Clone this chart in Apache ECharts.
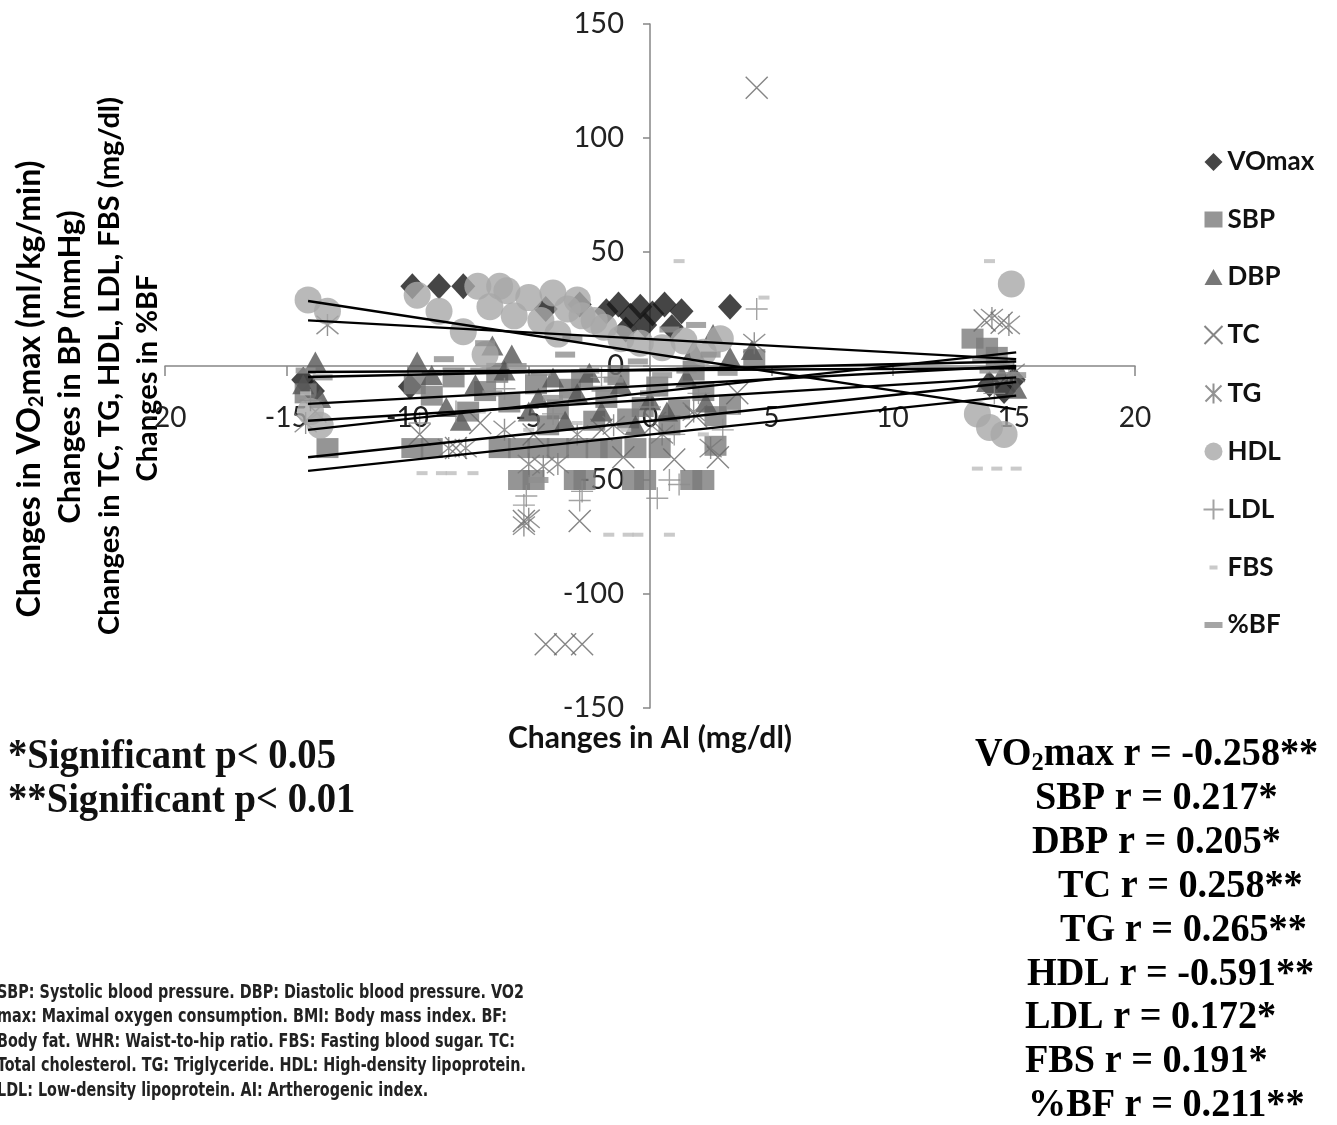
<!DOCTYPE html>
<html><head><meta charset="utf-8">
<script src="https://cdn.jsdelivr.net/npm/echarts@6/dist/echarts.min.js"></script>
<style>html,body{margin:0;padding:0;background:#fff}#c{width:1337px;height:1125px}</style>
</head><body><div id="c"></div>
<script>
// ---------- data (x = change in AI, y = change in variable) ----------
const seriesNames = ['VOmax', 'SBP', 'DBP', 'TC', 'TG', 'HDL', 'LDL', 'FBS', '%BF'];
const vo2max = [[-9.8,35],[-8.7,35],[-7.7,35],[-4.3,25],[-2.9,27],[-1.8,24],[-1.3,27],[-0.8,22],[-0.4,26],[0.1,23],[0.6,27],[1.3,24],[-1.0,16],[-0.2,18],[0.9,17],[3.3,26],[-14.3,-6],[-13.9,-11],[-9.9,-9],[14.0,-8],[14.6,-11],[15.0,-6]];
const sbp = [[-13.3,-36],[-14.2,-12],[-9.8,-36],[-9.0,-36],[-6.2,-36],[-5.4,-36],[-4.6,-36],[-3.8,-36],[-3.0,-36],[-2.2,-36],[-1.6,-36],[-0.6,-36],[0.4,-36],[2.7,-35],[-5.4,-50],[-4.8,-50],[-3.1,-50],[-2.7,-50],[-0.7,-50],[-0.2,-50],[1.7,-50],[2.2,-50],[-9.7,-8],[-9.0,-13],[-8.1,-5],[-6.8,-11],[-5.8,-16],[-4.7,-8],[-3.8,-19],[-2.8,-6],[-1.8,-14],[-0.9,-23],[0.3,-9],[1.2,-19],[2.2,-11],[3.3,-17],[4.3,3],[13.3,12],[13.9,8],[14.3,4],[-7.5,-20],[-6.3,-3],[-4.2,-26],[-3.3,-10],[-2.3,-24],[-1.3,-4],[-0.3,-18],[0.8,-26],[1.8,-2],[2.7,-22]];
const dbp = [[-13.8,2],[-14.3,-8],[-13.6,-14],[-9.6,2],[-6.5,9],[-5.7,5],[-8.4,-18],[-7.2,-8],[-5.0,-20],[-4.0,-5],[-3.0,-12],[-2.0,-20],[-1.2,-8],[0.0,-15],[1.5,-5],[1.8,7],[2.6,14],[3.3,4],[4.2,7],[13.9,-7],[14.5,-4],[15.1,-10],[-9.0,-4],[-7.8,-24],[-6.0,-2],[-4.6,-14],[-3.5,-24],[-2.5,-3],[-0.6,-26],[0.7,-20],[2.3,-16]];
const tc = [[4.4,122],[-4.3,-122],[-3.5,-122],[-2.8,-122],[-5.2,-68],[-2.9,-68],[-1.1,-40],[1.0,-41],[2.8,-40],[1.9,-22],[-8.0,-36],[-7.0,-25],[-4.8,-30],[-2.0,-28],[0.2,-25],[3.6,-12],[13.8,20],[14.5,19],[-13.8,-20],[-9.5,-30]];
const tg = [[-13.3,18],[-14.2,-25],[-7.6,-36],[-8.3,-36],[-5.0,-43],[-4.4,-44],[-3.8,-43],[-5.2,-70],[-5.0,-67],[4.3,10],[14.1,21],[14.8,18],[-6.0,-28],[-3.0,-30],[-1.5,-26],[0.5,-30],[1.8,-20],[2.5,-36],[15.0,-3]];
const hdl = [[-14.1,29],[-13.3,24],[-9.6,31],[-8.7,24],[-7.7,15],[-7.1,35],[-6.2,35],[-6.6,26],[-5.6,22],[-4.5,20],[-3.4,25],[-2.8,22],[-1.9,17],[-5.9,33],[-5.0,30],[-4.0,32],[-3.0,29],[-2.3,20],[-1.2,12],[-0.4,10],[0.5,8],[1.4,11],[2.9,12],[2.2,6],[-14.0,-20],[-13.6,-26],[14.9,36],[13.5,-21],[14.0,-27],[14.6,-30],[-3.8,14],[-6.8,5]];
const ldl = [[4.4,25],[-5.2,-61],[-5.1,-57],[-2.9,-59],[-2.8,-55],[0.3,-58],[0.8,-50],[1.2,-52],[-6.0,-10],[-4.0,-21],[-2.0,-5],[0.0,-18],[1.0,-30],[2.0,-12],[-8.0,-20],[-9.5,-25],[-14.0,-15],[14.2,-12],[14.8,-3],[3.0,-28]];
const fbs = [[1.2,46],[14.0,46],[-9.4,-47],[-8.6,-47],[-8.2,-47],[-7.3,-47],[-1.7,-74],[-0.9,-74],[-0.5,-74],[0.8,-74],[13.5,-45],[14.3,-45],[15.1,-45],[3.4,-20],[4.7,30],[-5.0,-28],[-3.0,-25],[-1.0,-28],[-7.0,-20],[-14.2,-12],[2.2,-30]];
const bf = [[-8.5,3],[-7.0,-2],[-5.5,0],[-4.5,-3],[-3.5,5],[-2.5,-2],[-1.5,-6],[-0.5,2],[0.5,-4],[1.5,-2],[1.9,18],[2.5,5],[3.2,-3],[-6.5,-12],[-4.0,-14],[-2.0,-10],[0.0,-12],[-14.2,-2],[-13.5,-5],[14.0,-2],[14.6,0],[15.1,-4],[13.7,3],[-4.6,-50],[-9.0,-3],[-6.8,10],[-3.2,12],[0.8,16]];
// linear trend lines: value at AI = trendX[0] and at AI = trendX[1]
const trendX = [-14.1, 15.1];
const trendStart = [20, -28, -4.8, -46, -40, 28.5, -16.6, -24, -2.6];
const trendEnd   = [3, 6, 2, -13, -7, -19, 0, -5, -1];
// texts
const corrNames  = ['VO|2|max', 'SBP', 'DBP', 'TC', 'TG', 'HDL', 'LDL', 'FBS', '%BF'];
const corrValues = ['-0.258**', '0.217*', '0.205*', '0.258**', '0.265**', '-0.591**', '0.172*', '0.191*', '0.211**'];
const sigLines = ['*Significant p< 0.05', '**Significant p< 0.01'];
const footnoteLines = [
  'SBP: Systolic blood pressure. DBP: Diastolic blood pressure. VO2',
  'max: Maximal oxygen consumption. BMI: Body mass index. BF:',
  'Body fat. WHR: Waist-to-hip ratio. FBS: Fasting blood sugar. TC:',
  'Total cholesterol. TG: Triglyceride. HDL: High-density lipoprotein.',
  'LDL: Low-density lipoprotein. AI: Artherogenic index.'
];

// ---------- styles ----------
const pts = [vo2max, sbp, dbp, tc, tg, hdl, ldl, fbs, bf];
const X = 'path://M0,0L10,10M10,0L0,10';
const STAR = 'path://M0,0L10,10M10,0L0,10M5,-1L5,11';
const PLUS = 'path://M5,0L5,10M0,5L10,5';
const styles = [
  {symbol: 'diamond', size: [24, 26], itemStyle: {color: '#161616'}},
  {symbol: 'rect', size: [22, 20], itemStyle: {color: '#7b7b7b'}},
  {symbol: 'triangle', size: [22, 20], itemStyle: {color: '#555555'}},
  {symbol: X, size: [22, 22], itemStyle: {color: 'none', borderColor: '#666', borderWidth: 1.4}},
  {symbol: STAR, size: [22, 22], itemStyle: {color: 'none', borderColor: '#777', borderWidth: 1.4}},
  {symbol: 'circle', size: 27, itemStyle: {color: '#a8a8a8'}},
  {symbol: PLUS, size: [22, 22], itemStyle: {color: 'none', borderColor: '#8c8c8c', borderWidth: 1.4}},
  {symbol: 'rect', size: [11, 4], itemStyle: {color: '#bdbdbd'}},
  {symbol: 'rect', size: [20, 6], itemStyle: {color: '#8e8e8e'}}
];
const legendIcons = [
  'path://M0,0M22,22M10,2L19,11L10,20L1,11Z',
  'path://M0,0M22,22M1,3H19V19H1Z',
  'path://M0,0M22,22M10,3L19,19H1Z',
  'path://M0,0M22,22M1,2L19,20M19,2L1,20',
  'path://M0,0M22,22M2,3L18,19M18,3L2,19M10,1L10,21',
  'path://M0,0M22,22M10,2A9,9,0,1,1,9.99,2Z',
  'path://M0,0M22,22M10,1L10,21M0,11L20,11',
  'path://M0,0M22,22M6,9H14V13H6Z',
  'path://M0,0M22,22M1,8H19V14H1Z'
];

const series = [];
seriesNames.forEach((n, i) => {
  series.push({
    name: n, type: 'scatter', data: pts[i], symbol: styles[i].symbol,
    symbolSize: styles[i].size, itemStyle: styles[i].itemStyle, z: 2, silent: true
  });
});
seriesNames.forEach((n, i) => {
  series.push({
    name: n + ' trend', type: 'line', data: [[trendX[0], trendStart[i]], [trendX[1], trendEnd[i]]],
    symbol: 'none', lineStyle: {color: '#000', width: 2.4}, z: 5, silent: true
  });
});

const graphics = [];
const yTitles = [
  {t: '{b|Changes in VO}{s|2}{b|max (ml/kg/min)}', x: 30, y: 389},
  {t: '{c|Changes in BP (mmHg)}', x: 70, y: 367},
  {t: '{a|Changes in TC, TG, HDL, LDL, FBS (mg/dl)}', x: 110, y: 366},
  {t: '{a|Changes in %BF}', x: 148, y: 378}
];
const titleRich = {
  a: {fontFamily: 'Lato', fontWeight: 'bold', fontSize: 29, color: '#111', lineHeight: 32},
  b: {fontFamily: 'Lato', fontWeight: 'bold', fontSize: 32, color: '#111', lineHeight: 34},
  c: {fontFamily: 'Lato', fontWeight: 'bold', fontSize: 31, color: '#111', lineHeight: 34},
  s: {fontFamily: 'Lato', fontWeight: 'bold', fontSize: 20, color: '#111', lineHeight: 34, verticalAlign: 'bottom'}
};
yTitles.forEach(o => graphics.push({
  type: 'text', x: o.x, y: o.y, rotation: Math.PI / 2, silent: true,
  style: {text: o.t, rich: titleRich, align: 'center', verticalAlign: 'middle'}
}));
graphics.push({type: 'text', x: 650, y: 738, silent: true,
  style: {text: 'Changes in AI (mg/dl)', fontFamily: 'Lato', fontWeight: 'bold', fontSize: 30, fill: '#111', align: 'center', verticalAlign: 'middle'}});
sigLines.forEach((t, i) => graphics.push({type: 'text', x: 8, y: 757 + i * 44, scaleX: 0.92, silent: true,
  style: {text: t, fontFamily: 'Liberation Serif', fontWeight: 'bold', fontSize: 42, fill: '#111', align: 'left', verticalAlign: 'middle'}}));
const corrLeft = [975, 1035, 1032, 1058, 1060, 1027, 1025, 1025, 1028];
const corrRich = {
  n: {fontFamily: 'Liberation Serif', fontWeight: 'bold', fontSize: 39, color: '#111', lineHeight: 42},
  s: {fontFamily: 'Liberation Serif', fontWeight: 'bold', fontSize: 25, color: '#111', lineHeight: 38, verticalAlign: 'bottom'}
};
corrNames.forEach((n, i) => {
  const parts = n.split('|');
  let txt = '{n|' + parts[0] + '}';
  if (parts.length > 1) txt += '{s|' + parts[1] + '}{n|' + parts[2] + '}';
  txt = txt.replace(/\}$/, ' r = ' + corrValues[i] + '}');
  graphics.push({type: 'text', x: corrLeft[i], y: 755 + i * 43.9, scaleX: 0.98, silent: true,
    style: {text: txt, rich: corrRich, align: 'left', verticalAlign: 'middle'}});
});
footnoteLines.forEach((t, i) => graphics.push({type: 'text', x: -3, y: 993 + i * 24.5, scaleX: 0.84, silent: true,
  style: {text: t, fontFamily: 'Liberation Sans Narrow, DejaVu Sans Condensed, sans-serif', fontWeight: 'bold', fontSize: 19, fill: '#222', align: 'left', verticalAlign: 'middle'}}));

const axisCol = '#868686';
const chart = echarts.init(document.getElementById('c'), null, {renderer: 'canvas'});
chart.setOption({
  animation: false,
  backgroundColor: '#ffffff',
  grid: {left: 165, right: 202, top: 24, bottom: 417, containLabel: false, outerBoundsMode: 'none'},
  xAxis: {
    type: 'value', min: -20, max: 20, interval: 5, position: 'bottom', offset: -342,
    axisLine: {onZero: false, lineStyle: {color: axisCol, width: 1.5}},
    axisTick: {show: true, inside: false, length: 10, lineStyle: {color: axisCol, width: 1.5}},
    axisLabel: {margin: 38, fontFamily: 'Lato', fontSize: 28, color: '#222'},
    splitLine: {show: false}
  },
  yAxis: {
    type: 'value', min: -150, max: 150, interval: 50, position: 'left', offset: -485,
    axisLine: {show: true, onZero: false, lineStyle: {color: axisCol, width: 1.5}},
    axisTick: {show: true, inside: false, length: 7, lineStyle: {color: axisCol, width: 1.5}},
    axisLabel: {margin: 26, fontFamily: 'Lato', fontSize: 29, color: '#222'},
    splitLine: {show: false}
  },
  legend: {
    orient: 'vertical', left: 1196, top: 144, itemGap: 31.5, itemWidth: 22, itemHeight: 22,
    selectedMode: false,
    textStyle: {fontFamily: 'Lato', fontWeight: 'bold', fontSize: 26, color: '#111', padding: [0, 0, 0, -3]},
    data: seriesNames.map((n, i) => ({name: n, icon: legendIcons[i]}))
  },
  graphic: graphics,
  series: series
});
</script></body></html>
